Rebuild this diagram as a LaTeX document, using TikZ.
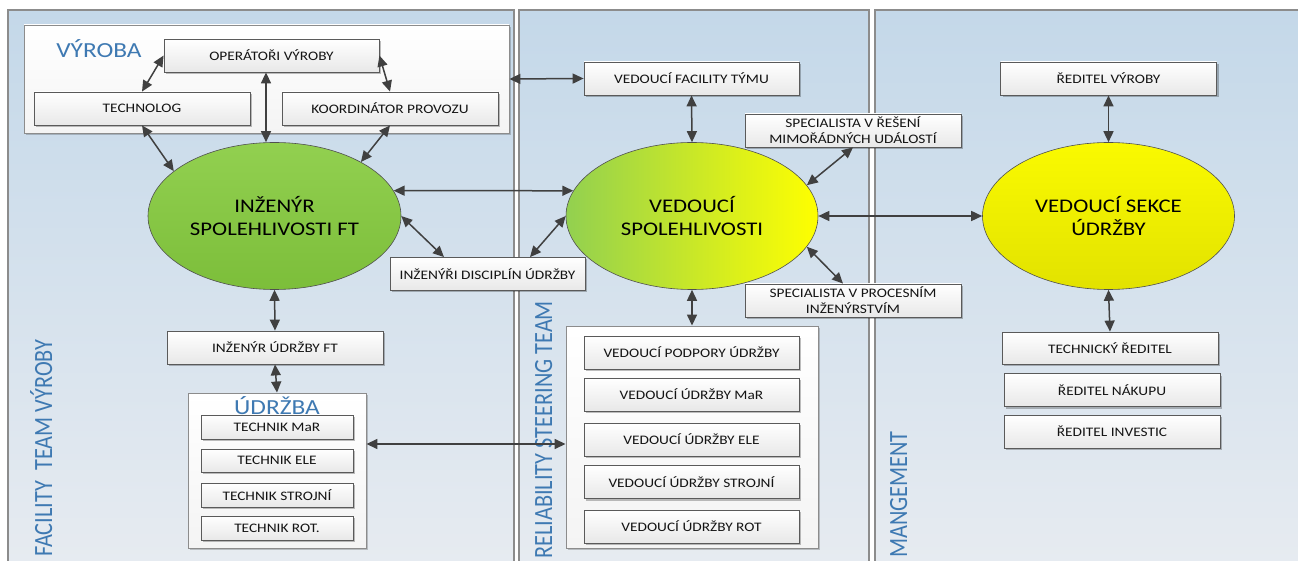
\documentclass[tikz,border=0pt]{standalone}
\usepackage{fontspec}
\usepackage{graphicx}
\setmainfont{Carlito}[FakeStretch=1.18]
\newfontfamily\uprightlabel{Carlito}
\usetikzlibrary{arrows.meta,shadows,shapes.geometric}

\definecolor{lanetop}{RGB}{196,216,233}
\definecolor{lanebot}{RGB}{232,236,241}
\definecolor{laneline}{RGB}{140,140,140}
\definecolor{headblue}{RGB}{62,121,178}
\definecolor{arrowgray}{RGB}{64,64,64}
\definecolor{boxline}{RGB}{90,90,90}
\definecolor{boxbot}{RGB}{232,232,232}
\definecolor{grpbot}{RGB}{244,244,244}
\definecolor{greentop}{RGB}{146,208,80}
\definecolor{greenbot}{RGB}{124,190,58}
\definecolor{yellowtop}{RGB}{250,250,0}
\definecolor{yellowbot}{RGB}{226,226,0}
\definecolor{ellline}{RGB}{80,80,80}
\definecolor{txt}{RGB}{20,20,20}

\tikzset{
  lane/.style={draw=laneline, line width=1.2pt, top color=lanetop, bottom color=lanebot},
  grpbox/.style={draw=laneline, line width=0.9pt, top color=white, bottom color=grpbot,
    drop shadow={shadow xshift=2pt, shadow yshift=-2pt, opacity=0.2, fill=black}},
  rolebox/.style={draw=boxline, line width=0.8pt, top color=white, bottom color=boxbot,
    text=txt, align=center, font=\fontsize{13}{16}\selectfont, inner sep=1pt,
    drop shadow={shadow xshift=2pt, shadow yshift=-2pt, opacity=0.25, fill=black}},
  keyrole/.style={ellipse, draw=ellline, line width=0.6pt, inner sep=0pt,
    minimum width=252, minimum height=147, text=black, align=center,
    font=\fontsize{19.3}{23}\selectfont},
  grouplabel/.style={text=headblue, font=\fontsize{21.5}{24}\selectfont, inner sep=0pt},
  lanelabel/.style={text=headblue, rotate=90, inner sep=0pt, anchor=base west,
    font=\uprightlabel\fontsize{22.3}{24}\selectfont},
  link/.style={draw=arrowgray, line width=1.5pt,
    {Triangle[length=11pt,width=10pt]}-{Triangle[length=11pt,width=10pt]}}
}

\begin{document}
\begin{tikzpicture}[x=1pt,y=-1pt]
\useasboundingbox (0,0) rectangle (1298,561);

% swim lanes
\path[lane] (8,10) rectangle (514,590);
\path[lane] (519,10) rectangle (869,590);
\path[lane] (875,10) rectangle (1320,590);

\node[lanelabel] (lfac) at (52,557) {\scalebox{1}[1.18]{FACILITY\ \ TEAM VÝROBY}};
\node[lanelabel] (lrel) at (552,559) {\scalebox{1}[1.18]{RELIABILITY STEERING TEAM}};
\node[lanelabel] (lman) at (907,558) {\scalebox{1}[1.18]{MANGEMENT}};

% production group
\node[grpbox, minimum width=485, minimum height=108] (vyroba) at (266.5,79) {};
\node[grouplabel, anchor=base] (lvyroba) at (99,58) {VÝROBA};
\node[rolebox, minimum width=215, minimum height=33] (op) at (271.5,55.5) {OPERÁTOŘI VÝROBY};
\node[rolebox, minimum width=216, minimum height=33] (tech) at (142,108.5) {TECHNOLOG};
\node[rolebox, minimum width=216, minimum height=33] (koord) at (390,108.5) {KOORDINÁTOR PROVOZU};

% key roles
\node[keyrole, minimum width=253, top color=greentop, bottom color=greenbot] (el1) at (274.5,216)
  {INŽENÝR\\SPOLEHLIVOSTI FT};
\node[keyrole, left color=greentop, right color=yellow] (vs) at (692,216)
  {VEDOUCÍ\\SPOLEHLIVOSTI};
\node[keyrole, top color=yellowtop, bottom color=yellowbot] (el3) at (1108.5,216)
  {VEDOUCÍ SEKCE\\ÚDRŽBY};

% steering team roles
\node[rolebox, minimum width=215, minimum height=33] (vft) at (691.5,78.5) {VEDOUCÍ FACILITY TÝMU};
\node[rolebox, minimum width=216, minimum height=33] (mim) at (853,130.5) {SPECIALISTA V ŘEŠENÍ\\MIMOŘÁDNÝCH UDÁLOSTÍ};
\node[rolebox, minimum width=195, minimum height=33] (idu) at (487.5,274) {INŽENÝŘI DISCIPLÍN ÚDRŽBY};
\node[rolebox, minimum width=216, minimum height=33] (proc) at (853,300.5) {SPECIALISTA V PROCESNÍM\\INŽENÝRSTVÍM};

% maintenance leads
\node[grpbox, minimum width=252, minimum height=222] (big) at (692,437) {};
\node[rolebox, minimum width=215, minimum height=33] (v1) at (691.5,352.5) {VEDOUCÍ PODPORY ÚDRŽBY};
\node[rolebox, minimum width=215, minimum height=33] (v2) at (691.5,394.5) {VEDOUCÍ ÚDRŽBY MaR};
\node[rolebox, minimum width=215, minimum height=33] (v3) at (691.5,439.5) {VEDOUCÍ ÚDRŽBY ELE};
\node[rolebox, minimum width=215, minimum height=33] (v4) at (691.5,482) {VEDOUCÍ ÚDRŽBY STROJNÍ};
\node[rolebox, minimum width=215, minimum height=33] (v5) at (691.5,526.5) {VEDOUCÍ ÚDRŽBY ROT};

% facility maintenance
\node[rolebox, minimum width=216, minimum height=33] (iuft) at (275,347.5) {INŽENÝR ÚDRŽBY FT};
\node[grpbox, minimum width=178, minimum height=155] (udrz) at (277,470.5) {};
\node[grouplabel, anchor=base] (ludrz) at (277,414) {ÚDRŽBA};
\node[rolebox, minimum width=152, minimum height=24] (tmar) at (277,427) {TECHNIK MaR};
\node[rolebox, minimum width=152, minimum height=23] (tele) at (277,460.5) {TECHNIK ELE};
\node[rolebox, minimum width=152, minimum height=24] (tstr) at (277,495) {TECHNIK STROJNÍ};
\node[rolebox, minimum width=152, minimum height=24] (trot) at (277,528) {TECHNIK ROT.};

% management
\node[rolebox, minimum width=216, minimum height=33] (rv) at (1108.5,78.5) {ŘEDITEL VÝROBY};
\node[rolebox, minimum width=216, minimum height=32] (tr) at (1110,348) {TECHNICKÝ ŘEDITEL};
\node[rolebox, minimum width=216, minimum height=33] (nak) at (1112,390) {ŘEDITEL NÁKUPU};
\node[rolebox, minimum width=216, minimum height=33] (inv) at (1112,431.5) {ŘEDITEL INVESTIC};

% connectors
\draw[link] (op.west) -- (tech.north);
\draw[link] (op.east) -- (koord.north);
\draw[link] ([xshift=-5.5pt]op.south) -- ([xshift=-8.5pt]el1.north);
\draw[link] (tech.south) -- (el1.156);
\draw[link] (koord.south) -- (el1.32);
\draw[link] (vyroba.east) -- (vft.west);
\draw[link] (el1.12) -- (vs.168);
\draw[link] (el1.east) -- ([xshift=-43.5pt]idu.north);
\draw[link] ([xshift=42.5pt]idu.north) -- (vs.west);
\draw[link] (vft.south) -- (vs.north);
\draw[link] (mim.south) -- (vs.15);
\draw[link] (vs.345) -- ([xshift=-10pt]proc.north);
\draw[link] (vs.east) -- (el3.west);
\draw[link] (vs.south) -- (big.north);
\draw[link] (el1.south) -- (iuft.north);
\draw[link] (iuft.south) -- (udrz.north);
\draw[link] ([yshift=26.5pt]udrz.east) -- ([yshift=-7pt]big.west);
\draw[link] (rv.south) -- (el3.north);
\draw[link] (el3.south) -- (tr.north);
\end{tikzpicture}
\end{document}
